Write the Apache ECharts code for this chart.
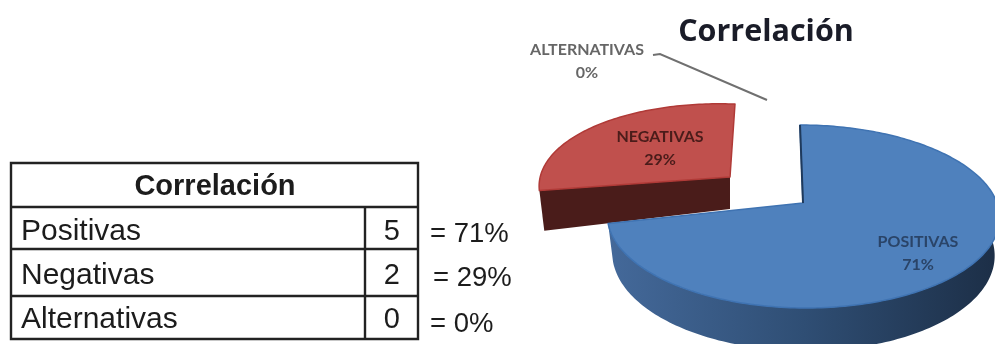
<!DOCTYPE html>
<html><head><meta charset="utf-8">
<style>html,body{margin:0;padding:0;background:#fff}#c{width:995px;height:344px;filter:blur(.7px)}</style>
<script src="https://cdn.jsdelivr.net/npm/echarts@6/dist/echarts.min.js"></script>
</head><body><div id="c"></div>
<script>
var tableTitle = 'Correlación';
var categories = ['Positivas', 'Negativas', 'Alternativas'];
var sliceLabels = ['POSITIVAS', 'NEGATIVAS', 'ALTERNATIVAS'];
var counts = [5, 2, 0];
var pctNotes = ['= 71%', '= 29%', '= 0%'];
var chartTitle = 'Correlación';

var total = counts.reduce(function (a, b) { return a + b; }, 0);
var k = 0.1475, dx = -5;
var geom = [
  {ax: 803, ay: 203, A: 89.5, B: 194, sx: -3, sy: 0, d: 36.6, tilt: 0,
   top: '#4f81bd', edge: '#3f73b2', wall: ['#44699a', '#2f4e74', '#1c2e46'], side: '#1f3a5c', lx: 918, ly: 242, lc: '#2a4468'},
  {ax: 730, ay: 177, A: 83.7, B: 188, sx: 5, sy: 5.8, d: 32, tilt: 7,
   top: '#c0504d', edge: '#b03a37', wall: ['#4a1c1a', '#4a1c1a', '#4a1c1a'], side: '#4a1c1a', lx: 660, ly: 137, lc: '#4a1c1a'},
  {lx: 587, ly: 50, lc: '#666666', leader: true}
];

function project(g, th, r, h) {
  var u = Math.sin(th) * r, v = Math.cos(th) * r, s = 1 / (1 + k * v);
  return [g.ax + g.B * u * s + g.sx * v + h * dx * u,
          g.ay - g.A * v * s + g.sy * u + h * (g.d - g.tilt * u) * s];
}
function arc(g, a, b, h) {
  var pts = [], n = Math.max(2, Math.ceil(Math.abs(b - a) / 0.02));
  for (var i = 0; i <= n; i++) pts.push(project(g, a + (b - a) * i / n, 1, h));
  return pts;
}

function renderSlice(params, api) {
  var i = params.dataIndex, val = api.value(0), g = geom[i];
  var before = 0;
  for (var j = 0; j < i; j++) before += counts[j];
  var t0 = before / total * Math.PI * 2, t1 = (before + val) / total * Math.PI * 2;
  var pct = Math.round(val / total * 100) + '%';
  var z = 10 * (counts.length - i), kids = [];
  if (val > 0) {
    var a = Math.max(t0, Math.PI / 2), b = Math.min(t1, Math.PI * 1.5 + 0.5);
    if (t0 < Math.PI * 1.5 && t1 > Math.PI / 2 && b > a && i === 0) {
      kids.push({type: 'polygon', z2: z, shape: {points: arc(g, a, b, 0).concat(arc(g, a, b, 1).reverse())},
        style: {fill: new echarts.graphic.LinearGradient(0, 0, 1, 0, [
          {offset: 0, color: g.wall[0]}, {offset: .5, color: g.wall[1]}, {offset: 1, color: g.wall[2]}])}});
    }
    if (Math.sin(t0) < -0.01) {
      kids.push({type: 'polygon', z2: z, shape: {points: [project(g, t0, 0, 0), project(g, t0, 1, 0), project(g, t0, 1, 1), project(g, t0, 0, 1)]},
        style: {fill: g.wall[0]}});
    }
    var top = [project(g, 0, 0, 0)].concat(arc(g, t0, t1, 0));
    kids.push({type: 'polygon', z2: z + 1, shape: {points: top}, style: {fill: g.top, stroke: g.edge, lineWidth: 1.5, lineJoin: 'round'}});
    if (i === 0) {
      kids.push({type: 'polyline', z2: z + 2, shape: {points: [project(g, 0, 1, 0), project(g, 0, 0, 0)]},
        style: {stroke: g.side, lineWidth: 2, fill: null}});
    }
  }
  if (g.leader) {
    kids.push({type: 'polyline', z2: z, shape: {points: [[653, 55], [660, 54], [767, 100]]},
      style: {stroke: '#707070', lineWidth: 2, fill: null}});
  }
  kids.push({type: 'text', z2: 100, style: {x: g.lx, y: g.ly, text: sliceLabels[i], textAlign: 'center', textVerticalAlign: 'middle', fill: g.lc, font: 'bold 16px Lato'}});
  kids.push({type: 'text', z2: 100, style: {x: g.lx, y: g.ly + 23, text: pct, textAlign: 'center', textVerticalAlign: 'middle', fill: g.lc, font: 'bold 16px Lato'}});
  return {type: 'group', children: kids};
}

var L = '#222222', LW = 2.4;
function ln(x1, y1, x2, y2) {
  return {type: 'line', shape: {x1: x1, y1: y1, x2: x2, y2: y2}, style: {stroke: L, lineWidth: LW}};
}
function txt(x, y, s, font, align) {
  return {type: 'text', x: x, y: y, style: {text: s, font: font, fill: '#1c1c1c', textAlign: align || 'left', textVerticalAlign: 'middle'}};
}
var rowText = [231.5, 276, 320], noteY = [234, 278, 324], noteX = [430, 433, 430];
var tableEls = [
  {type: 'rect', shape: {x: 11, y: 163, width: 407, height: 176}, style: {fill: '#fff', stroke: L, lineWidth: LW}},
  ln(11, 207, 418, 207), ln(11, 249, 418, 249), ln(11, 296, 418, 296), ln(365, 207, 365, 339),
  txt(215, 187, tableTitle, 'bold 29px "Liberation Sans"', 'center')
];
categories.forEach(function (c, i) {
  tableEls.push(txt(21, rowText[i], c, '30px "Liberation Sans"'));
  tableEls.push(txt(400, rowText[i], String(counts[i]), '29px "Liberation Sans"', 'right'));
  tableEls.push(txt(noteX[i], noteY[i], pctNotes[i], '27.5px "Liberation Sans"'));
});

var chart = echarts.init(document.getElementById('c'), null, {renderer: 'canvas'});
chart.setOption({
  animation: false,
  backgroundColor: '#fff',
  title: {text: chartTitle, left: 761, top: 12, textAlign: 'center',
    textStyle: {fontFamily: 'Open Sans', fontWeight: 'bold', fontSize: 30.5, color: '#1a1c28'}},
  graphic: {elements: tableEls},
  series: [{
    type: 'custom', coordinateSystem: 'none', silent: true, clip: false,
    renderItem: renderSlice,
    data: categories.map(function (c, i) { return {name: c, value: [counts[i]]}; })
  }]
});
</script></body></html>
